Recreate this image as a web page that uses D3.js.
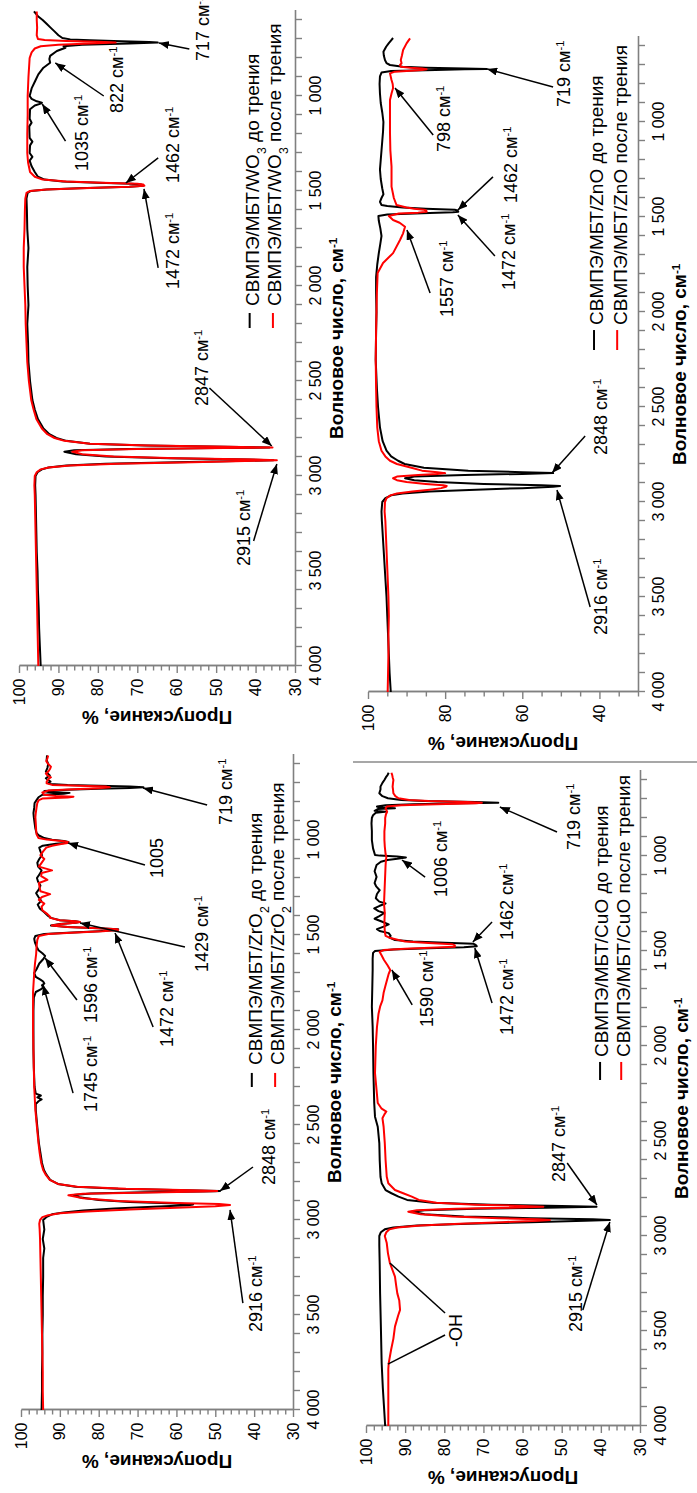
<!DOCTYPE html>
<html><head><meta charset="utf-8">
<script src="https://cdn.jsdelivr.net/npm/d3@7"></script>
<style>body{margin:0;background:#fff} svg{display:block} text{font-family:"Liberation Sans",Arial,sans-serif}</style>
</head><body><svg id="c" width="697" height="1493"></svg>
<script>
// ---------- DATA (wavenumber, cm-1 ; transmission, %) ----------
const wnMajorTicks = [4000, 3500, 3000, 2500, 2000, 1500, 1000];
const wnMinorTicks = d3.range(600, 4001, 100);

const wo3Before = [[4000,94.5],[3900,94.7],[3800,94.9],[3700,95.0],[3600,95.2],[3500,95.3],[3400,95.5],[3300,95.6],[3200,95.7],[3100,95.8],[3050,95.9],[3000,95.8],[2980,95.3],[2965,94.2],[2955,92.5],[2945,88],[2935,78],[2927,60],[2920,42],[2917,35.5],[2913,42],[2907,62],[2897,78],[2885,85.5],[2872,88.5],[2865,86],[2858,72],[2853,50],[2850,36.5],[2846,48],[2840,68],[2830,82],[2815,88],[2800,90.5],[2780,92.3],[2750,93.8],[2700,95.2],[2650,96],[2600,96.6],[2500,97.2],[2400,97.6],[2300,97.7],[2200,97.9],[2100,97.6],[2000,97.8],[1900,97.9],[1800,97.6],[1700,97.9],[1600,98.0],[1540,98.1],[1510,97.8],[1500,97.0],[1492,93],[1485,85],[1478,72],[1472,68.5],[1466,69],[1462,71.5],[1457,80],[1450,89],[1440,93.5],[1425,95.2],[1400,96],[1370,96.8],[1340,97.3],[1320,96.6],[1300,97.3],[1260,97.2],[1240,96.6],[1220,97.3],[1160,97.4],[1140,96.8],[1120,97.3],[1070,97.2],[1050,96],[1040,94.5],[1035,94.2],[1028,95.5],[1015,96.8],[1000,97.3],[960,96.8],[921,95.9],[886,95.1],[851,93.8],[825,92.1],[805,92.3],[789,92.1],[763,90.4],[746,88.2],[738,88.7],[730,84],[724,72],[719,64.8],[716,67],[712,74],[707,82],[702,87],[695,89],[680,90],[660,91],[640,92],[620,93],[600,94],[580,95.2],[555,96.2]];
const wo3After = [[4000,95.1],[3900,95.2],[3800,95.3],[3700,95.4],[3600,95.5],[3500,95.6],[3400,95.7],[3300,95.8],[3200,95.9],[3100,96.0],[3050,96.1],[3000,96.0],[2980,95.5],[2965,94.5],[2955,92.5],[2945,87],[2935,75],[2927,56],[2920,40],[2917,34.6],[2913,40],[2907,60],[2897,76],[2885,84],[2872,86.5],[2865,84],[2858,70],[2853,48],[2850,35.7],[2846,47],[2840,67],[2830,82],[2815,88.5],[2800,91],[2780,92.8],[2750,94.2],[2700,95.6],[2650,96.3],[2600,96.9],[2500,97.5],[2400,97.9],[2300,98.1],[2200,98.3],[2100,98.4],[2000,98.6],[1900,98.8],[1800,98.8],[1700,98.6],[1600,98.5],[1540,98.4],[1510,98.1],[1500,97.2],[1492,93],[1485,84],[1478,72],[1472,68.2],[1466,68.5],[1462,70],[1457,79],[1450,88],[1440,94],[1425,96],[1400,97.2],[1350,97.7],[1300,97.9],[1200,97.9],[1100,97.8],[1000,97.8],[900,97.6],[800,97.3],[770,96.8],[750,96],[738,94.5],[730,90],[724,82],[719,75.5],[715,80],[710,88],[705,93.5],[700,95.2],[680,95.5],[640,95.4],[600,95.5],[555,95.5]];

const znoBefore = [[4000,94.1],[3900,94.4],[3800,94.6],[3700,94.8],[3600,95.0],[3500,95.2],[3400,95.5],[3300,95.8],[3200,96.1],[3100,96.4],[3050,96.5],[3000,96.3],[2980,95.5],[2965,94],[2955,91],[2945,84],[2935,72],[2927,60],[2920,52],[2916,50.2],[2912,55],[2905,70],[2895,82],[2885,88],[2875,90.4],[2866,88],[2858,75],[2852,60],[2848,52],[2843,60],[2835,74],[2820,85.5],[2800,90.5],[2783,92.2],[2760,94],[2730,95.2],[2680,96.2],[2607,96.9],[2500,97.4],[2400,97.7],[2253,98],[2100,97.9],[2000,97.8],[1900,97.9],[1816,97.9],[1750,97.6],[1690,97.2],[1640,96.8],[1600,96.5],[1560,96.8],[1520,97.2],[1495,97.3],[1487,95],[1480,86],[1475,78],[1472,76.6],[1466,76.8],[1462,77.5],[1456,85],[1450,91],[1442,95],[1437,96.5],[1420,96.9],[1400,96.5],[1380,96],[1350,96.3],[1300,96.7],[1250,96.9],[1200,96.7],[1150,96.5],[1100,96.3],[1050,96.1],[1000,96.0],[950,96.3],[900,96.7],[850,96.9],[800,97],[760,96.9],[740,96.5],[732,94],[727,85],[723,75],[721,69.2],[718,75],[714,85],[709,91],[700,94.3],[690,95.2],[674,95.6],[650,95.9],[630,96],[604,95.3],[585,94.6],[570,94],[558,93.5]];
const znoAfter = [[4000,94.9],[3900,94.8],[3800,94.7],[3700,94.7],[3600,94.6],[3500,94.7],[3400,94.9],[3300,95.1],[3200,95.3],[3100,95.5],[3050,95.7],[3000,95.6],[2980,95.2],[2965,94.2],[2955,92.5],[2945,88.5],[2935,84],[2927,81],[2920,79.8],[2916,79.6],[2912,80.5],[2905,85],[2895,90],[2885,92.5],[2875,93.5],[2866,92.5],[2858,87],[2852,82],[2848,80],[2843,82],[2835,86],[2818,89],[2800,92.5],[2783,94.3],[2760,95.5],[2730,96.5],[2680,97.2],[2607,97.6],[2500,97.8],[2400,97.9],[2253,98],[2100,97.9],[2000,97.8],[1900,97.7],[1795,97.5],[1742,96.1],[1690,93.5],[1621,91.7],[1586,90.9],[1551,90.4],[1530,91.8],[1516,93.5],[1495,94.6],[1482,92],[1477,87],[1472,84.8],[1466,84.9],[1462,85.5],[1456,88],[1450,90],[1437,92.6],[1400,93.3],[1340,93.9],[1300,93.9],[1235,93.9],[1150,94.2],[1058,94.3],[974,94.3],[884,94.3],[850,93.9],[821,93.5],[800,93.6],[779,93.9],[744,94.3],[735,93],[730,89],[726,86],[722,84.8],[718,86],[714,89],[709,91.5],[700,91.7],[691,91.3],[674,91.5],[650,91.2],[621,90.9],[586,90],[560,89.1]];

const zro2Before = [[4000,94.7],[3900,94.6],[3800,94.6],[3700,94.5],[3600,94.5],[3500,94.4],[3400,94.4],[3300,94.3],[3200,94.3],[3150,94.0],[3100,94.4],[3050,94.0],[3000,94.3],[2985,93.5],[2970,92],[2960,89],[2950,84],[2940,76],[2930,66],[2922,57],[2918,55.7],[2913,60],[2905,72],[2895,80],[2880,85],[2868,86.5],[2860,82],[2854,68],[2849,50],[2847,48.8],[2843,58],[2836,75],[2825,86],[2810,90.5],[2789,92.5],[2760,93.5],[2737,94.1],[2700,94.6],[2647,95],[2596,95.4],[2510,95.8],[2421,96.2],[2390,96.2],[2375,95.5],[2365,94.7],[2355,95.8],[2345,94.9],[2335,96.2],[2300,96.5],[2200,96.7],[2100,96.8],[2000,96.8],[1900,96.8],[1830,96.7],[1800,96.2],[1785,94.8],[1775,94.3],[1765,94.6],[1755,94],[1745,94.3],[1735,95],[1720,96.2],[1700,96.6],[1680,96],[1650,95.3],[1625,94.2],[1610,93.8],[1596,94.5],[1580,95.5],[1560,96],[1540,96.4],[1520,96.6],[1505,96.3],[1495,94],[1488,88],[1480,80],[1474,75.2],[1470,75],[1465,80],[1458,88],[1450,92.3],[1442,90],[1436,86],[1432,84.9],[1428,86],[1422,90],[1410,92.3],[1400,93],[1380,94],[1360,95.2],[1340,95.7],[1320,94.8],[1300,95.5],[1280,96.1],[1260,95.4],[1240,95],[1220,95.6],[1200,95.9],[1180,95.2],[1160,94.7],[1140,95.6],[1120,95.8],[1100,95.3],[1080,94.6],[1060,95],[1040,95.3],[1030,94.4],[1020,91],[1014,88],[1010,87.8],[1005,89],[998,92],[990,94],[975,95.5],[963,96],[940,96.3],[911,96.5],[880,96.7],[858,96.8],[830,96.6],[805,96.5],[790,96],[775,95.5],[762,94.5],[756,89],[752,87.5],[748,93],[742,94],[735,88],[730,80],[726,72],[722,68.5],[718,72],[714,80],[710,88],[705,92.5],[700,93],[693,92.4],[684,93],[675,93.6],[660,92.6],[640,93.6],[620,93.2],[600,93],[580,93.4],[555,93.3]];
const zro2After = [[4000,94.3],[3900,94.4],[3800,94.4],[3700,94.5],[3600,94.6],[3500,94.7],[3400,94.8],[3300,94.9],[3200,95.0],[3100,95.1],[3050,95.2],[3020,95.3],[3000,95.1],[2985,94.5],[2975,93],[2965,90],[2955,83],[2945,72],[2935,60],[2927,50],[2921,46.2],[2916,49],[2910,60],[2900,75],[2885,84],[2870,87.8],[2862,84],[2856,70],[2850,53],[2847,49.5],[2843,56],[2836,73],[2825,85.5],[2810,90.5],[2789,92.6],[2760,93.7],[2737,94.3],[2700,94.8],[2647,95.2],[2596,95.5],[2510,95.9],[2421,96.3],[2300,96.6],[2200,96.7],[2100,96.8],[2000,96.9],[1900,96.9],[1800,96.9],[1700,96.6],[1650,96.4],[1600,96.1],[1560,96],[1526,95.8],[1505,95.4],[1495,93],[1488,87],[1480,79],[1474,75],[1470,75.2],[1465,80],[1458,88],[1450,92.1],[1442,89.5],[1436,86],[1432,84.8],[1428,86],[1422,90],[1410,92.5],[1404,92.5],[1390,93.2],[1370,94.5],[1351,94.7],[1335,94.0],[1315,95.4],[1300,94.6],[1285,92.5],[1270,95.0],[1250,95.2],[1226,95.4],[1210,93.2],[1190,94.8],[1174,94.7],[1160,92.0],[1140,95.4],[1120,94.7],[1100,94.0],[1080,95],[1060,94.3],[1040,93.5],[1030,92],[1022,90],[1016,88],[1012,87.8],[1006,89],[998,93.4],[990,95.5],[970,96],[950,96.1],[911,96.2],[880,96.3],[858,96.2],[830,96],[805,95.8],[790,95.4],[782,94.5],[776,88],[772,86.5],[768,91],[762,94],[750,94.5],[740,93],[734,88],[728,80],[723,77.1],[719,78],[714,85],[710,92],[702,93.4],[693,93.4],[680,93],[670,92.3],[660,93.2],[650,93.6],[640,93],[625,92.5],[614,92.3],[600,93],[585,93.5],[570,93.2],[555,93]];

const cuoBefore = [[4000,95.1],[3900,95.4],[3800,95.7],[3670,96.0],[3477,96.2],[3302,96.4],[3150,96.5],[3050,96.6],[3000,96.6],[2980,96.2],[2965,95.2],[2955,93],[2945,87],[2935,74],[2927,58],[2920,44],[2916,37.7],[2912,42],[2906,58],[2897,75],[2885,85],[2872,88.3],[2864,85],[2857,72],[2851,54],[2846,41.1],[2842,50],[2835,68],[2825,83],[2810,89.5],[2793,91.7],[2775,93.5],[2758,95],[2722,96],[2688,96.3],[2600,96.5],[2511,96.6],[2425,97.0],[2372,97.7],[2300,97.9],[2143,98.1],[2000,98.2],[1900,98.3],[1793,98.5],[1700,98.4],[1600,98.3],[1540,98.3],[1510,98.2],[1500,97.7],[1492,93],[1486,84],[1480,75],[1475,71.7],[1468,72],[1462,72.5],[1456,80],[1450,88],[1442,92.6],[1430,94],[1420,93.7],[1406,94.2],[1395,96.5],[1385,97.2],[1372,95.5],[1360,94.2],[1345,96],[1330,97.8],[1316,96.6],[1300,95.3],[1290,96.8],[1276,97.9],[1262,96.5],[1250,95],[1240,96.6],[1222,97.5],[1200,97.2],[1180,96.5],[1160,97.4],[1142,97.8],[1110,97.3],[1080,97.8],[1047,97.3],[1030,96.2],[1021,94.5],[1015,92],[1008,89.8],[1003,92],[998,96.5],[995,97.7],[960,98.2],[916,98.5],[870,98.5],[828,98.6],[800,98.5],[785,98.2],[772,97.5],[767,95.1],[762,97.8],[753,97],[749,92.6],[745,96.5],[740,97.2],[733,95],[728,88],[723,75],[720,66.2],[716,72],[711,85],[705,91],[696,94.4],[685,95.8],[670,96.6],[650,96.3],[635,96.3],[615,95.8],[600,95.3],[585,94.9],[574,94.5],[562,94.2]];
const cuoAfter = [[4000,94.3],[3900,94.3],[3800,94.3],[3700,94.3],[3670,94.2],[3600,93.6],[3540,93.0],[3477,92.6],[3420,91.8],[3389,91.3],[3340,91.5],[3302,92.0],[3260,92.3],[3214,92.6],[3142,93.9],[3090,94.4],[3037,94.7],[3000,95.2],[2980,94.8],[2965,94],[2955,92],[2945,86],[2935,76],[2927,65],[2920,56],[2916,53],[2912,56],[2906,66],[2897,78],[2885,86],[2872,89.2],[2864,87],[2857,77],[2851,63],[2846,54.7],[2842,60],[2835,72],[2825,82],[2810,86.5],[2793,88.3],[2775,90.5],[2758,92.6],[2722,94.3],[2688,94.7],[2600,95],[2511,95.2],[2425,95.5],[2380,95.8],[2360,95.3],[2345,94.8],[2330,96.0],[2300,97.0],[2143,97.7],[2000,97.5],[1900,97.2],[1830,96.8],[1793,96.4],[1760,95.8],[1720,95.5],[1688,95.1],[1650,94.6],[1620,94.2],[1600,93.8],[1575,94.5],[1547,95.4],[1520,96.1],[1505,96.5],[1495,95.5],[1488,90],[1482,82],[1477,77.3],[1470,77.3],[1464,78],[1458,84],[1450,90],[1442,91.7],[1430,94],[1420,95],[1400,95.2],[1350,95.3],[1300,95.2],[1250,95.4],[1200,95.3],[1150,95.2],[1100,95.1],[1050,95.0],[1020,94.9],[1006,94.8],[990,95.0],[950,95.2],[916,95.3],[870,95.3],[828,95.1],[800,95.1],[780,94.9],[767,94.6],[750,95],[740,94.7],[733,91],[727,82],[722,72],[720,70.4],[716,74],[711,84],[705,89],[696,91.7],[685,92.5],[670,93],[650,93.1],[635,93.2],[615,93.1],[600,93],[585,93.2],[574,93.3],[562,93.5]];

const seriesLabels = ["до трения", "после трения"];
const materials = ["WO_3", "ZnO", "ZrO_2", "CuO"];

// ---------- LAYOUT ----------
const PX_PER_WN = 0.19;
const WN_MIN = 550;
const panels = [
  {mat: materials[0], before: wo3Before, after: wo3After, x0: 19, y0: 666, h: 276, tStep: 2, tLabel: 10,
   legend: {dash: [2221, 2142], text: 2105, t: [[41.5, 39.2], [35.6, 33.6]]},
   ann: [
    {t: "717 см^-1", at: [816, 51.7], from: [753, 56.8], to: [721, 64.5]},
    {t: "822 см^-1", at: [1089, 73.7], from: [1000, 78.5], to: [826, 90.8]},
    {t: "1035 см^-1", at: [1395, 82.4], from: [1237, 88.2], to: [1042, 94.1]},
    {t: "1462 см^-1", at: [1458, 59.4], from: [1326, 64.7], to: [1458, 72.9]},
    {t: "1472 см^-1", at: [2016, 59.4], from: [1905, 64.7], to: [1489, 68.3]},
    {t: "2847 см^-1", at: [2632, 52.0], from: [2537, 51.7], to: [2842, 35.9]},
    {t: "2915 см^-1", at: [3474, 41.5], from: [3342, 40.5], to: [2937, 34.6]}
   ]},
  {mat: materials[1], before: znoBefore, after: znoAfter, x0: 368, y0: 692, h: 270, tStep: 5, tLabel: 20,
   legend: {dash: [2200, 2095], text: 2068, t: [[41.4, 39.1], [35.4, 32.8]]},
   ann: [
    {t: "719 см^-1", at: [921, 47.6], from: [816, 52.0], to: [721, 69.1]},
    {t: "798 см^-1", at: [1158, 78.7], from: [1068, 83.1], to: [821, 93.0]},
    {t: "1462 см^-1", at: [1426, 61.4], from: [1289, 67.6], to: [1463, 76.7]},
    {t: "1472 см^-1", at: [1884, 61.9], from: [1705, 67.1], to: [1489, 76.7]},
    {t: "1557 см^-1", at: [2026, 78.0], from: [1900, 83.9], to: [1568, 89.9]},
    {t: "2848 см^-1", at: [2753, 38.0], from: [2653, 43.7], to: [2847, 52.3]},
    {t: "2916 см^-1", at: [3700, 38.0], from: [3553, 42.4], to: [2937, 51.0]}
   ]},
  {mat: materials[2], before: zro2Before, after: zro2After, x0: 21, y0: 1410, h: 272, tStep: 2, tLabel: 10,
   legend: {dash: [2300, 2226], text: 2184, t: [[40.6, 38.0], [34.6, 32.3]]},
   ann: [
    {t: "719 см^-1", at: [921, 45.7], from: [816, 52.1], to: [726, 68.6]},
    {t: "1005", at: [1200, 63.5], from: [1132, 68.1], to: [1016, 87.9]},
    {t: "1429 см^-1", at: [1695, 51.9], from: [1563, 57.8], to: [1437, 84.8]},
    {t: "1472 см^-1", at: [2089, 60.9], from: [1984, 66.0], to: [1489, 75.8]},
    {t: "1596 см^-1", at: [1963, 80.4], from: [1842, 85.6], to: [1621, 93.8]},
    {t: "1745 см^-1", at: [2432, 80.4], from: [2332, 86.6], to: [1763, 94.3]},
    {t: "2848 см^-1", at: [2816, 34.6], from: [2721, 40.3], to: [2847, 48.8]},
    {t: "2916 см^-1", at: [3589, 38.0], from: [3437, 42.9], to: [2947, 46.2]}
   ]},
  {mat: materials[3], before: cuoBefore, after: cuoAfter, x0: 366, y0: 1426, h: 274, tStep: 2, tLabel: 10,
   legend: {dash: [2179, 2084], text: 2058, t: [[40.2, 38.2], [34.8, 32.6]]},
   ann: [
    {t: "719 см^-1", at: [968, 45.3], from: [874, 51.2], to: [742, 65.8]},
    {t: "1006 см^-1", at: [1216, 79.3], from: [1111, 84.9], to: [1021, 90.8]},
    {t: "1462 см^-1", at: [1442, 62.4], from: [1347, 67.8], to: [1453, 72.7]},
    {t: "1472 см^-1", at: [1942, 62.4], from: [1774, 67.8], to: [1484, 72.2]},
    {t: "1590 см^-1", at: [1900, 82.9], from: [1784, 88.2], to: [1600, 93.4]},
    {t: "2847 см^-1", at: [2716, 49.2], from: [2616, 48.6], to: [2837, 41.0]},
    {t: "2915 см^-1", at: [3505, 44.8], from: [3389, 44.6], to: [2926, 37.7]},
    {t: "-OH", at: [3584, 75.5], from: [3405, 79.8], to: [3142, 93.9], noArrow: true},
    {t: "", from: [3521, 79.8], to: [3674, 94.4], noArrow: true}
   ]}
];

const svg = d3.select("#c");
svg.append("rect").attr("width", 697).attr("height", 1493).attr("fill", "#fff");
const defs = svg.append("defs");
defs.append("marker").attr("id", "ah").attr("viewBox", "0 0 10 8").attr("refX", 10).attr("refY", 4)
  .attr("markerWidth", 10).attr("markerHeight", 8).attr("markerUnits", "userSpaceOnUse").attr("orient", "auto")
  .append("path").attr("d", "M0,0L10,4L0,8z").attr("fill", "#000");

const fmtWn = d => d3.format(",")(d).replace(",", " ");
const ANN_SIZE = 18, LEG_SIZE = 19, TITLE_SIZE = 19, TICK_SIZE = 16;

function richText(sel, str, size) {
  const parts = str.split(/(\^\S+|_\S)/).filter(s => s.length);
  parts.forEach(p => {
    if (p[0] === "^") sel.append("tspan").attr("baseline-shift", "super").attr("font-size", size * 0.62).text(p.slice(1));
    else if (p[0] === "_") sel.append("tspan").attr("baseline-shift", "sub").attr("font-size", size * 0.65).text(p.slice(1));
    else sel.append("tspan").text(p);
  });
}

svg.append("line").attr("x1", 353).attr("x2", 697).attr("y1", 762).attr("y2", 762)
  .attr("stroke", "#8a8a8a").attr("stroke-width", 1.5);

function styleAxis(a) {
  a.select(".domain").attr("stroke", "#808080").attr("stroke-width", 1.6);
  a.selectAll(".tick line").attr("stroke", "#808080").attr("stroke-width", 1.4);
  a.selectAll(".tick text").attr("font-size", TICK_SIZE).attr("fill", "#000").attr("font-family", "Liberation Sans, Arial, sans-serif");
}

panels.forEach(p => {
  const W = (4000 - WN_MIN) * PX_PER_WN;
  const g = svg.append("g").attr("transform", `translate(${p.x0},${p.y0}) rotate(-90)`);
  const x = d3.scaleLinear().domain([4000, WN_MIN]).range([0, W]);
  const y = d3.scaleLinear().domain([100, 30]).range([0, p.h]);

  const allT = d3.range(30, 100.001, p.tStep);
  const majT = allT.filter(d => (100 - d) % p.tLabel === 0);
  const minT = allT.filter(d => (100 - d) % p.tLabel !== 0);
  styleAxis(g.append("g").call(d3.axisLeft(y).tickValues(minT).tickFormat("").tickSize(4.5).tickSizeOuter(0)));
  styleAxis(g.append("g").call(d3.axisLeft(y).tickValues(majT).tickSize(7).tickSizeOuter(0).tickPadding(5.5)));
  styleAxis(g.append("g").attr("transform", `translate(0,${p.h})`).call(
    d3.axisBottom(x).tickValues(wnMinorTicks).tickFormat(d => wnMajorTicks.includes(d) ? fmtWn(d) : "")
      .tickSize(7).tickSizeOuter(0).tickPadding(8)));

  const xt = g.append("text").attr("x", W / 2).attr("y", p.h + 48).attr("text-anchor", "middle")
    .attr("font-size", TITLE_SIZE).attr("font-weight", "bold");
  richText(xt, "Волновое число, см^-1", TITLE_SIZE);
  g.append("text").attr("transform", `translate(-45,${p.h / 2}) rotate(-90)`).attr("text-anchor", "middle")
    .attr("font-size", TITLE_SIZE).attr("font-weight", "bold").text("Пропускание, %");

  const line = d3.line().x(d => x(d[0])).y(d => y(d[1]));
  g.append("path").datum(p.before).attr("d", line).attr("fill", "none").attr("stroke", "#000").attr("stroke-width", 2).attr("stroke-linejoin", "round");
  g.append("path").datum(p.after).attr("d", line).attr("fill", "none").attr("stroke", "#ff0000").attr("stroke-width", 2).attr("stroke-linejoin", "round");

  ["#000", "#ff0000"].forEach((c, i) => {
    g.append("line").attr("x1", x(p.legend.dash[0])).attr("x2", x(p.legend.dash[1]))
      .attr("y1", y(p.legend.t[i][0])).attr("y2", y(p.legend.t[i][0])).attr("stroke", c).attr("stroke-width", 2);
    const t = g.append("text").attr("x", x(p.legend.text)).attr("y", y(p.legend.t[i][1])).attr("font-size", LEG_SIZE);
    richText(t, "СВМПЭ/МБТ/" + p.mat + " " + seriesLabels[i], LEG_SIZE);
  });

  p.ann.forEach(a => {
    g.append("line").attr("x1", x(a.from[0])).attr("y1", y(a.from[1])).attr("x2", x(a.to[0])).attr("y2", y(a.to[1]))
      .attr("stroke", "#000").attr("stroke-width", 1.5).attr("marker-end", a.noArrow ? null : "url(#ah)");
    if (a.t) {
      const t = g.append("text").attr("x", x(a.at[0])).attr("y", y(a.at[1])).attr("font-size", ANN_SIZE);
      richText(t, a.t, ANN_SIZE);
    }
  });
});
</script></body></html>
